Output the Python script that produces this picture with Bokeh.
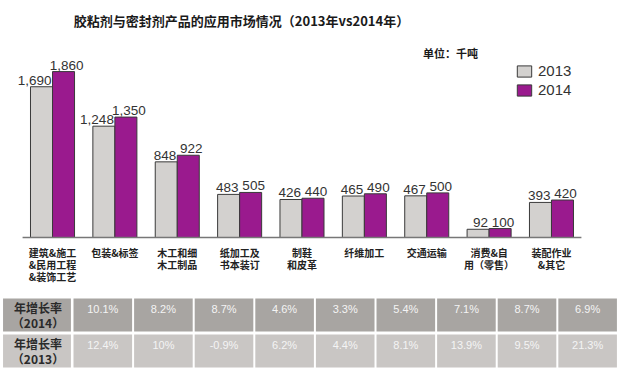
from bokeh.plotting import figure
from bokeh.models import Range1d, Label, Legend, LegendItem, ColumnDataSource
from bokeh.layouts import column
from bokeh.core.properties import value
from bokeh.embed import file_html
from bokeh.resources import INLINE

# ---- data ----
categories = ["建筑&施工\n&民用工程\n&装饰工艺", "包装&标签", "木工和细\n木工制品", "纸加工及\n书本装订",
              "制鞋\n和皮革", "纤维加工", "交通运输", "消费&自\n用（零售）", "装配作业\n&其它"]
v2013 = [1690, 1248, 848, 483, 426, 465, 467, 92, 393]
v2014 = [1860, 1350, 922, 505, 440, 490, 500, 100, 420]
growth2014 = ["10.1%", "8.2%", "8.7%", "4.6%", "3.3%", "5.4%", "7.1%", "8.7%", "6.9%"]
growth2013 = ["12.4%", "10%", "-0.9%", "6.2%", "4.4%", "8.1%", "13.9%", "9.5%", "21.3%"]
row_headers = ["年增长率\n（2014）", "年增长率\n（2013）"]
series_names = ["2013", "2014"]

GRAY = "#d3d1cf"
PURPLE = "#9a1a8e"
CJK = "Noto Sans CJK SC"
LAT = "Liberation Sans"

n = len(categories)
idx = list(range(n))
bw = 0.353
half = bw / 2

src = ColumnDataSource(dict(
    idx=idx,
    x13=[i - half for i in idx],
    x14=[i + half for i in idx],
    v13=v2013,
    v14=v2014,
    l13=[f"{v:,}" for v in v2013],
    l14=[f"{v:,}" for v in v2014],
    cat=categories,
))

W = 629
H1 = 293
p = figure(width=W, height=H1, output_backend="svg", toolbar_location=None,
           x_axis_type=None, y_axis_type=None, min_border=0,
           x_range=Range1d(-0.834, 9.251), y_range=Range1d(-628, 2657))
p.outline_line_color = None
p.grid.visible = False
p.background_fill_color = "white"

r13 = p.vbar(x="x13", top="v13", width=bw, source=src, fill_color=GRAY,
             line_color="#3a3a3a", line_width=1)
r14 = p.vbar(x="x14", top="v14", width=bw, source=src, fill_color=PURPLE,
             line_color="#3a3a3a", line_width=1)

# baseline
p.segment(x0=[-0.48], y0=[0], x1=[n - 1 + 0.48], y1=[0], line_color="#777777", line_width=1.5)

# value labels
p.text(x="idx", y="v13", text="l13", source=src, text_align="right", text_baseline="bottom",
       x_offset=-1, y_offset=-2, text_font=value(LAT), text_font_size="13.5px", text_color="#333333")
p.text(x="x14", y="v14", text="l14", source=src, text_align="center", text_baseline="bottom",
       x_offset=3, y_offset=-2, text_font=value(LAT), text_font_size="13.5px", text_color="#333333")

# category labels
p.text(x="idx", y=0, text="cat", source=src, text_align="center", text_baseline="top",
       y_offset=8, text_font=value(CJK), text_font_size="10px", text_font_style="bold",
       text_color="#222222", text_line_height=0.8)

# title & unit
p.add_layout(Label(x=241, y=H1 - 20, x_units="screen", y_units="screen",
                   text="胶粘剂与密封剂产品的应用市场情况（2013年vs2014年）",
                   text_align="center", text_baseline="middle", text_font=CJK,
                   text_font_size="13px", text_font_style="bold", text_color="#1a1a1a"))
p.add_layout(Label(x=450, y=H1 - 52, x_units="screen", y_units="screen",
                   text="单位：千吨", text_align="center", text_baseline="middle",
                   text_font=CJK, text_font_size="11px", text_font_style="bold",
                   text_color="#1a1a1a"))

legend = Legend(items=[LegendItem(label=series_names[0], renderers=[r13]),
                       LegendItem(label=series_names[1], renderers=[r14])],
                location=(515, 195), padding=0, margin=0, spacing=2,
                glyph_width=18, glyph_height=14, label_standoff=5,
                label_text_font=LAT, label_text_font_size="15px", label_text_color="#333333",
                border_line_color=None, background_fill_alpha=0)
p.add_layout(legend)

# ---- table ----
H2 = 93
t = figure(width=W, height=H2, output_backend="svg", toolbar_location=None,
           x_axis_type=None, y_axis_type=None, min_border=0,
           x_range=Range1d(-1.688, 8.691), y_range=Range1d(1.986, -0.597))
t.outline_line_color = None
t.grid.visible = False

rows = [growth2014, growth2013]
row_colors = ["#a8a5a2", "#c9c6c4"]
cx, cy, cc, ct = [], [], [], []
for r, vals in enumerate(rows):
    for k, s in enumerate(vals):
        cx.append(k); cy.append(r); cc.append(row_colors[r]); ct.append(s)
tsrc = ColumnDataSource(dict(x=cx, y=cy, c=cc, t=ct))
t.rect(x="x", y="y", width=0.967, height=0.917, fill_color="c", line_color=None, source=tsrc)
t.text(x="x", y="y", text="t", source=tsrc, text_align="center", text_baseline="middle",
       y_offset=-6, text_font=value(LAT), text_font_size="11px", text_color="#f4f4f4")

hsrc = ColumnDataSource(dict(x=[-1.086, -1.086], y=[0, 1], c=row_colors, t=row_headers))
t.rect(x="x", y="y", width=1.12, height=0.917, fill_color="c", line_color=None, source=hsrc)
t.text(x=-1.069, y="y", text="t", source=hsrc, text_align="center", text_baseline="middle",
       text_font=value(CJK), text_font_size="12px", text_font_style="bold",
       text_color="#2a2a2a", text_line_height=0.86)

layout = column(p, t, spacing=0)
open("out.html", "w").write(file_html(layout, INLINE))
